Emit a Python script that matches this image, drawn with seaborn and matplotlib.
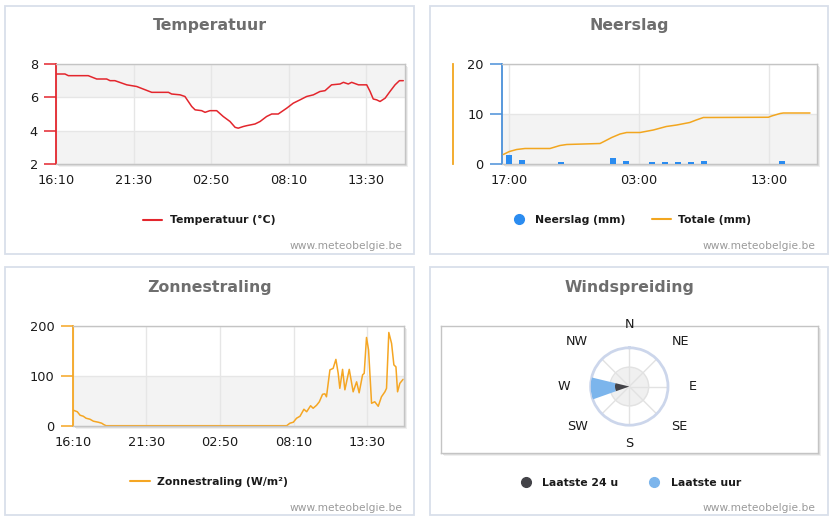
import numpy as np
import matplotlib
matplotlib.use("Agg")
import matplotlib.pyplot as plt
import seaborn as sns
from matplotlib.patches import Rectangle
from matplotlib.lines import Line2D

# ---------------- data ----------------
# Temperatuur (minutes after 16:10, degrees C)
temp_min = [3, 37, 51, 133, 168, 209, 223, 243, 292, 333, 395, 464, 477, 512, 532, 560,
            574, 601, 615, 635, 663, 690, 718, 739, 752, 773, 787, 821, 842, 869, 890,
            917, 952, 979, 1007, 1034, 1062, 1089, 1110, 1137, 1172, 1186, 1206, 1220,
            1248, 1261, 1282, 1296, 1309, 1323, 1337, 1358, 1378, 1399, 1417, 1433]
temp_val = [7.4, 7.4, 7.3, 7.3, 7.1, 7.1, 7.0, 7.0, 6.75, 6.65, 6.3, 6.3, 6.2, 6.15, 6.05,
            5.45, 5.25, 5.2, 5.1, 5.2, 5.2, 4.85, 4.55, 4.2, 4.15, 4.25, 4.3, 4.4, 4.55,
            4.85, 5.0, 5.0, 5.35, 5.65, 5.85, 6.05, 6.15, 6.35, 6.4, 6.75, 6.8, 6.9, 6.8,
            6.9, 6.75, 6.75, 6.75, 6.35, 5.9, 5.85, 5.75, 5.95, 6.35, 6.75, 7.0, 7.0]
time_ticks = [0, 320, 640, 960, 1280]
time_labels = ["16:10", "21:30", "02:50", "08:10", "13:30"]

# Neerslag (hours after 17:00)
rain_hours = [0, 1, 4, 8, 9, 11, 12, 13, 14, 15, 21]
rain_mm = [1.8, 0.9, 0.45, 1.2, 0.7, 0.45, 0.45, 0.45, 0.45, 0.7, 0.7]
total_hours = [-0.44, 0.03, 0.59, 1.23, 3.15, 3.92, 4.44, 7.0, 7.38, 7.9, 8.54, 9.05,
               10.08, 11.1, 12.1, 12.9, 13.9, 14.4, 14.95, 15.46, 19.95, 20.2, 20.85,
               21.1, 23.15]
total_mm = [1.9, 2.5, 2.9, 3.1, 3.1, 3.7, 3.9, 4.1, 4.6, 5.3, 6.0, 6.3, 6.3, 6.8, 7.5,
            7.8, 8.3, 8.8, 9.3, 9.3, 9.35, 9.6, 10.1, 10.2, 10.2]
rain_ticks = [0, 10, 20]
rain_tick_labels = ["17:00", "03:00", "13:00"]

# Zonnestraling (minutes after 16:10, W/m2)
sun_min = [3, 20, 32, 46, 58, 75, 90, 111, 126, 136, 145, 930, 944, 959, 973, 988, 1005,
           1017, 1034, 1045, 1060, 1072, 1086, 1096, 1103, 1118, 1132, 1144, 1154, 1161,
           1173, 1183, 1202, 1219, 1234, 1245, 1260, 1267, 1277, 1286, 1299, 1313, 1328,
           1342, 1357, 1364, 1374, 1386, 1396, 1405, 1412, 1422, 1436]
sun_val = [31, 28, 21, 19, 15, 13, 9, 7, 5, 2, 0, 0, 5, 7, 15, 19, 33, 28, 40, 35, 41, 48,
           63, 64, 58, 112, 115, 133, 105, 75, 113, 72, 113, 68, 88, 66, 102, 105, 177,
           152, 45, 48, 39, 58, 68, 75, 187, 165, 122, 118, 68, 85, 93]

# Windspreiding
wind_dir_deg = [267]
wind_last24 = [37]
wind_lasthour = [63]
compass = ["N", "NE", "E", "SE", "S", "SW", "W", "NW"]

# ---------------- style ----------------
sns.set_theme(style="white")
plt.rcParams["font.family"] = ["DejaVu Sans"]

W, H = 833, 521
fig = plt.figure(figsize=(W / 100, H / 100), dpi=100, facecolor="white")

RED = "#e3262d"
BLUE = "#2b8cf0"
BLUE_AX = "#4a90d9"
ORANGE = "#f2a61f"
SUN = "#f5a623"
DARK = "#434348"
LIGHTBLUE = "#7cb5ec"
TXT = "#1a1a1a"
GRID = "#e6e6e6"
BAND = "#f3f3f3"


def frect(x0, y0, x1, y1):
    return [x0 / W, 1 - y1 / H, (x1 - x0) / W, (y1 - y0) / H]


def panel(x0, y0, x1, y1):
    fig.add_artist(Rectangle((x0 / W, 1 - y1 / H), (x1 - x0) / W, (y1 - y0) / H,
                             transform=fig.transFigure, fill=False, ec="#d9dfea",
                             lw=1.3, zorder=-10))


def shadow(x0, y0, x1, y1):
    for off, col in [(3, "#efefef"), (2, "#e0e0e0"), (1, "#cccccc")]:
        fig.add_artist(Rectangle(((x0 + off) / W, 1 - (y1 + off) / H), (x1 - x0) / W,
                                 (y1 - y0) / H, transform=fig.transFigure,
                                 fc=col, ec="none", zorder=-5))


def title(cx, cy, s):
    fig.text(cx / W, 1 - cy / H, s, ha="center", va="center", fontsize=11.3,
             fontweight="bold", color="#6e6e6e")


def watermark(rx, cy):
    fig.text(rx / W, 1 - cy / H, "www.meteobelgie.be", ha="right", va="center",
             fontsize=7.7, color="#9a9a9a")


def style_axes(ax, axcol):
    ax.set_facecolor("white")
    for s in ["top", "right", "bottom"]:
        ax.spines[s].set_color("#c4c4c4")
        ax.spines[s].set_linewidth(1)
    ax.spines["left"].set_color(axcol)
    ax.spines["left"].set_linewidth(1.3)
    ax.tick_params(axis="y", length=8.8, width=1.1, color=axcol, pad=4.3,
                   labelsize=9.3, labelcolor=TXT, left=True)
    ax.tick_params(axis="x", length=0, pad=7.3, labelsize=9.3, labelcolor=TXT,
                   bottom=True)
    ax.grid(axis="x", color=GRID, lw=1)
    ax.grid(axis="y", color=GRID, lw=1)
    ax.set_axisbelow(True)
    ax.set_xlabel("")
    ax.set_ylabel("")


def legend(ax, handles, labels, cx, cy, spacing=2.4):
    ax.legend(handles, labels, loc="center", bbox_to_anchor=(cx / W, 1 - cy / H),
              bbox_transform=fig.transFigure, frameon=False, ncol=len(labels),
              prop={"weight": "bold", "size": 7.8}, handlelength=1.8,
              handletextpad=0.65, columnspacing=spacing, labelcolor=TXT,
              borderpad=0, borderaxespad=0)


# panels
panel(4.5, 6, 414, 254)
panel(430, 6, 828, 254)
panel(4.5, 267, 414, 515)
panel(430, 267, 828, 515)

# ---------------- Temperatuur ----------------
shadow(56, 64, 405, 164)
ax1 = fig.add_axes(frect(56, 64, 405, 164))
for lo, hi in [(6, 8), (2, 4)]:
    ax1.axhspan(lo, hi, color=BAND, lw=0, zorder=0)
sns.lineplot(x=temp_min, y=temp_val, ax=ax1, color=RED, lw=1.1,
             label="Temperatuur (°C)", legend=False)
ax1.set_xlim(0, 1440)
ax1.set_ylim(2, 8)
ax1.set_yticks([2, 4, 6, 8])
ax1.set_xticks(time_ticks)
ax1.set_xticklabels(time_labels)
style_axes(ax1, RED)
legend(ax1, [Line2D([], [], color=RED, lw=1.5)], ["Temperatuur (°C)"], 209, 220.3)
title(210, 25.5, "Temperatuur")
watermark(402.7, 245.7)

# ---------------- Neerslag ----------------
shadow(502, 64, 817, 164)
ax2 = fig.add_axes(frect(502, 64, 817, 164))
ax2.axhspan(0, 10, color=BAND, lw=0, zorder=0)
ax2.set_xlim(-0.54, 23.69)
ax2.set_ylim(0, 20)
ax2.set_yticks([0, 10, 20])
ax2.set_xticks(rain_ticks)
ax2.set_xticklabels(rain_tick_labels)
style_axes(ax2, BLUE_AX)
ax2b = ax2.twinx()
ax2b.bar(rain_hours, rain_mm, width=0.44, color=BLUE, zorder=2, lw=0)
sns.lineplot(x=total_hours, y=total_mm, ax=ax2b, color=ORANGE, lw=1.1, legend=False,
             zorder=3)
ax2b.set_ylim(0, 20)
ax2b.set_xlim(-0.54, 23.69)
for s in ["top", "right", "bottom"]:
    ax2b.spines[s].set_visible(False)
ax2b.spines["left"].set_visible(True)
ax2b.spines["left"].set_position(("outward", 49 * 0.72))
ax2b.spines["left"].set_color(ORANGE)
ax2b.spines["left"].set_linewidth(1.3)
ax2b.tick_params(left=False, right=False, labelleft=False, labelright=False)
ax2b.set_ylabel("")
ax2b.grid(False)
legend(ax2b, [Line2D([], [], marker="o", ls="", color=BLUE, markersize=7),
              Line2D([], [], color=ORANGE, lw=1.5)],
       ["Neerslag (mm)", "Totale (mm)"], 630, 220, spacing=2.4)
title(629.3, 25.5, "Neerslag")
watermark(816, 245.7)

# ---------------- Zonnestraling ----------------
shadow(72.7, 326, 404, 425.7)
ax3 = fig.add_axes(frect(72.7, 326, 404, 425.7))
ax3.axhspan(0, 100, color=BAND, lw=0, zorder=0)
sns.lineplot(x=sun_min, y=sun_val, ax=ax3, color=SUN, lw=1.1, legend=False)
ax3.set_xlim(0, 1440)
ax3.set_ylim(0, 200)
ax3.set_yticks([0, 100, 200])
ax3.set_xticks(time_ticks)
ax3.set_xticklabels(time_labels)
style_axes(ax3, SUN)
legend(ax3, [Line2D([], [], color=SUN, lw=1.5)], ["Zonnestraling (W/m²)"], 209, 481.7)
title(210, 287.7, "Zonnestraling")
watermark(402.7, 508.3)

# ---------------- Windspreiding ----------------
shadow(441, 326, 818, 452.7)
axf = fig.add_axes(frect(441, 326, 818, 452.7))
axf.set_facecolor("white")
axf.set_xticks([])
axf.set_yticks([])
for s in axf.spines.values():
    s.set_color("#c4c4c4")
    s.set_linewidth(1)
cx, cy, R = 629.3, 386.5, 38.7
axp = fig.add_axes(frect(cx - R, cy - R, cx + R, cy + R), projection="polar")
axp.set_facecolor("none")
axp.set_theta_zero_location("N")
axp.set_theta_direction(-1)
th = np.linspace(0, 2 * np.pi, 200)
axp.fill_between(th, 0, 50, color="#f0f0f0", lw=0, zorder=0)
axp.bar(np.deg2rad(wind_dir_deg), wind_last24, width=np.deg2rad(33), color=DARK,
        zorder=3, lw=0)
axp.bar(np.deg2rad(wind_dir_deg), wind_lasthour, bottom=wind_last24,
        width=np.deg2rad(33), color=LIGHTBLUE, zorder=3, lw=0)
axp.set_ylim(0, 100)
axp.set_xticks(np.deg2rad(np.arange(0, 360, 45)))
axp.set_xticklabels([])
axp.set_yticks([50])
axp.set_yticklabels([])
axp.grid(True, color="#e2e2e2", lw=1)
axp.spines["polar"].set_color("#ccd6eb")
axp.spines["polar"].set_linewidth(2)
# label placement (compass angle, radius in units of the radial axis)
label_pos = {"N": (0, 160), "NE": (48.5, 175), "E": (90, 163), "SE": (128.5, 164),
             "S": (180, 148), "SW": (232.8, 169), "W": (270, 168), "NW": (310.4, 178)}
for lab in compass:
    ang, r = label_pos[lab]
    axp.text(np.deg2rad(ang), r, lab, ha="center", va="center", fontsize=9.2,
             color=TXT, clip_on=False)
legend(axf, [Line2D([], [], marker="o", ls="", color=DARK, markersize=7),
             Line2D([], [], marker="o", ls="", color=LIGHTBLUE, markersize=7)],
       ["Laatste 24 u", "Laatste uur"], 628.5, 482.7, spacing=2.4)
title(629.3, 287.7, "Windspreiding")
watermark(816, 508.3)

fig.savefig("out.png", dpi=100, facecolor="white")
